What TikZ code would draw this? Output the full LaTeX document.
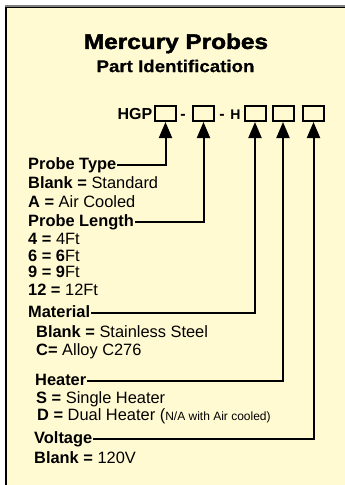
\documentclass[tikz,border=0pt]{standalone}
\usepackage{fontspec}
\setmainfont{Liberation Sans}
\newfontfamily\titlefont{Liberation Sans}[FakeStretch=1.16,FakeBold=2.2]
\newfontfamily\subfont{Liberation Sans}[FakeStretch=1.1,FakeBold=0.6]
\usetikzlibrary{arrows.meta}
\definecolor{cream}{RGB}{255,250,210}
\begin{document}
\begin{tikzpicture}[x=1pt,y=-1pt,
  lbl/.style={anchor=west,inner sep=1pt,text height=11pt,text depth=3pt,font=\fontsize{16.4}{18}\selectfont},
  hdr/.style={anchor=base,inner sep=0pt,font=\bfseries\fontsize{16}{18}\selectfont},
  codebox/.style={draw,line width=2pt,minimum width=21pt,minimum height=15pt,inner sep=0pt},
  arr/.style={line width=2pt,-{Triangle[length=16pt,width=13pt]}}]
\useasboundingbox (0,0) rectangle (345,485);
\begin{scope}
  \clip (0,0) rectangle (345,485);
  \fill[cream] (6,7) rectangle (360,500);
  \draw[black!50,line width=1.2pt] (5,6) -- (360,6);
  \draw[line width=1.6pt] (6,500) -- (6,7.6) -- (360,7.6);
\end{scope}
% titles
\node[font=\titlefont\bfseries\fontsize{21}{23}\selectfont,inner sep=0pt] (title) at (176,43.5) {Mercury Probes};
\node[font=\subfont\bfseries\fontsize{17}{20}\selectfont,inner sep=0pt] (sub) at (175.5,66) {Part Identification};
% code row
\node[hdr,anchor=base east] (hgp) at (152.5,119.5) {HGP};
\node[codebox] (b1) at (165.5,113.5) {};
\node[hdr] (d1) at (183,119.5) {-};
\node[codebox] (b2) at (203.5,113.5) {};
\node[hdr] (d2) at (222,119.5) {-};
\node[hdr,font=\bfseries\fontsize{14}{16}\selectfont] (h) at (235.5,119.5) {H};
\node[codebox] (b3) at (255,113.5) {};
\node[codebox] (b4) at (283,113.5) {};
\node[codebox] (b5) at (313.5,113.5) {};
% labels
\node[lbl] (pt) at (27,165) {\textbf{Probe Type}};
\node[lbl] (pt1) at (27,184) {\textbf{Blank =} Standard};
\node[lbl] (pt2) at (27,203) {\textbf{A =} Air Cooled};
\node[lbl] (pl) at (27,222) {\textbf{Probe Length}};
\node[lbl] (pl1) at (27,240) {\textbf{4 =} 4Ft};
\node[lbl] (pl2) at (27,257) {\textbf{6 = 6}Ft};
\node[lbl] (pl3) at (27,273) {\textbf{9 = 9}Ft};
\node[lbl] (pl4) at (27,291) {\textbf{12 =} 12Ft};
\node[lbl] (mat) at (27,313) {\textbf{Material}};
\node[lbl] (mat1) at (35,333) {\textbf{Blank =} Stainless Steel};
\node[lbl] (mat2) at (35,351) {\textbf{C=} Alloy C276};
\node[lbl] (heat) at (34,381) {\textbf{Heater}};
\node[lbl] (heat1) at (35,399) {\textbf{S =} Single Heater};
\node[lbl] (heat2) at (36,416) {\textbf{D =} Dual Heater ({\fontsize{12}{14}\selectfont N/A with Air cooled)}};
\node[lbl] (volt) at (33,439) {\textbf{Voltage}};
\node[lbl] (volt1) at (33,459) {\textbf{Blank =} 120V};
% connectors
\draw[arr] (pt.east) -| (b1.south);
\draw[arr] (pl.east) -| (b2.south);
\draw[arr] (mat.east) -| (b3.south);
\draw[arr] (heat.east) -| (b4.south);
\draw[arr] (volt.east) -| (b5.south);
\end{tikzpicture}
\end{document}
